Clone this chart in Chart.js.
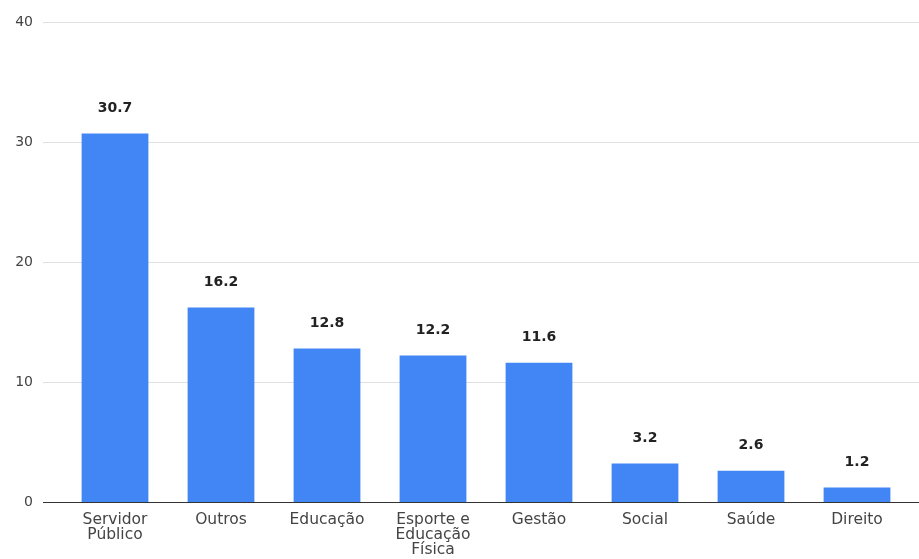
<!DOCTYPE html>
<html>
<head>
<meta charset="utf-8">
<script src="https://cdn.jsdelivr.net/npm/chart.js@4"></script>
<style>
  html, body { margin: 0; padding: 0; background: #fff; }
  #wrap { width: 919px; height: 559px; position: relative; }
</style>
</head>
<body>
<div id="wrap"><canvas id="chart"></canvas></div>
<script>
// data
const categories = [
    ['Servidor', 'Público'],
    'Outros',
    'Educação',
    ['Esporte e', 'Educação', 'Física'],
    'Gestão',
    'Social',
    'Saúde',
    'Direito'
];
const values = [30.7, 16.2, 12.8, 12.2, 11.6, 3.2, 2.6, 1.2];
const yTicks = [0, 10, 20, 30, 40];

const barColor = '#4285f4';
const fontFamily = '"DejaVu Sans", sans-serif';

// gridlines run the full width, like the original
const gridPlugin = {
    id: 'fullGrid',
    beforeDatasetsDraw(chart) {
        let ctx = chart.ctx;
        let y = chart.scales.y;
        ctx.save();
        yTicks.forEach(function(t) {
            let py = Math.round(y.getPixelForValue(t)) + 0.5;
            ctx.beginPath();
            ctx.strokeStyle = t === 0 ? '#333333' : '#e0e0e0';
            ctx.lineWidth = 1;
            ctx.moveTo(43, py);
            ctx.lineTo(chart.width, py);
            ctx.stroke();
        });
        ctx.restore();
    }
};

// value labels above bars
const labelPlugin = {
    id: 'barLabels',
    afterDatasetsDraw(chart) {
        let ctx = chart.ctx;
        let meta = chart.getDatasetMeta(0);
        ctx.save();
        ctx.font = 'bold 14px ' + fontFamily;
        ctx.fillStyle = '#222222';
        ctx.textAlign = 'center';
        ctx.textBaseline = 'middle';
        meta.data.forEach(function(bar, i) {
            ctx.fillText(values[i].toFixed(1), bar.x, bar.y - 25);
        });
        ctx.restore();
    }
};

new Chart(document.getElementById('chart'), {
    type: 'bar',
    data: {
        labels: categories,
        datasets: [{
            data: values,
            backgroundColor: barColor,
            barPercentage: 0.63,
            categoryPercentage: 1.0
        }]
    },
    options: {
        responsive: true,
        maintainAspectRatio: false,
        animation: false,
        layout: { padding: { top: 22, right: 9, left: 0, bottom: 0 } },
        plugins: {
            legend: { display: false },
            tooltip: { enabled: false }
        },
        scales: {
            y: {
                min: 0,
                max: 40,
                ticks: {
                    stepSize: 10,
                    padding: 29,
                    color: '#444444',
                    font: { family: fontFamily, size: 14 }
                },
                grid: { display: false, drawTicks: false },
                border: { display: false },
                afterFit: function(scale) {
                    scale.width = 62;
                    scale.paddingTop = 0;
                    scale.paddingBottom = 0;
                }
            },
            x: {
                ticks: {
                    color: '#444444',
                    padding: 10,
                    maxRotation: 0,
                    autoSkip: false,
                    font: { family: fontFamily, size: 15.5, lineHeight: 0.98 }
                },
                grid: { display: false, drawTicks: false },
                border: { display: false },
                afterFit: function(scale) {
                    scale.height = 57;
                    scale.paddingTop = 0;
                    scale.paddingLeft = 0;
                    scale.paddingRight = 0;
                }
            }
        }
    },
    plugins: [gridPlugin, labelPlugin]
});
</script>
</body>
</html>
